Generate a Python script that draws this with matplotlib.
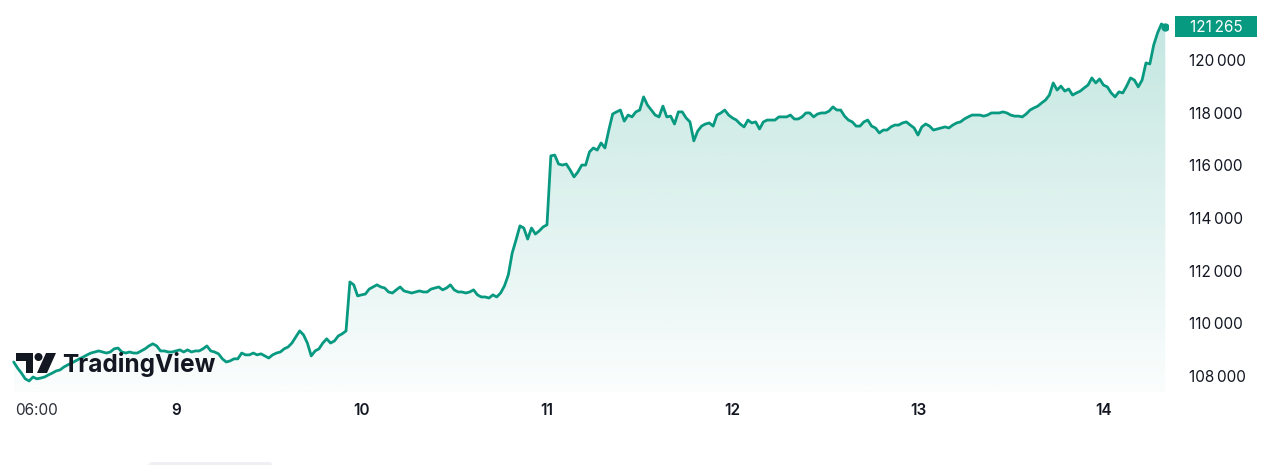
import numpy as np
import pandas as pd
import matplotlib
matplotlib.use('Agg')
import matplotlib.pyplot as plt
import matplotlib.dates as mdates
from matplotlib.patches import Polygon, Circle, Rectangle, FancyBboxPatch

plt.rcParams['font.family'] = ['Inter', 'DejaVu Sans']

# 30-minute closes, from 8th 03:00 to 14th 08:00
start = '2025-07-08 03:00'
prices = [
    108530, 108300, 108110, 107890, 107810, 107960, 107890, 107920, 107960, 108040,
    108110, 108190, 108230, 108340, 108420, 108490, 108570, 108650, 108720, 108800,
    108870, 108910, 108950, 108910, 108870, 108910, 109030, 109060, 108910, 108870,
    108910, 108870, 108870, 108950, 109030, 109140, 109220, 109140, 108950, 108950,
    108910, 108910, 108950, 108990, 108910, 108990, 108910, 108950, 108950, 109030,
    109140, 108950, 108910, 108840, 108650, 108530, 108570, 108650, 108650, 108870,
    108800, 108800, 108870, 108800, 108840, 108760, 108680, 108800, 108870, 108910,
    109030, 109100, 109250, 109480, 109710, 109560, 109250, 108760, 108950, 109030,
    109250, 109410, 109250, 109330, 109520, 109600, 109710, 111570, 111460, 111040,
    111080, 111110, 111300, 111380, 111460, 111380, 111340, 111190, 111150, 111270,
    111380, 111230, 111190, 111150, 111190, 111230, 111190, 111190, 111300, 111340,
    111380, 111270, 111340, 111460, 111270, 111190, 111190, 111150, 111190, 111270,
    111080, 111000, 111000, 110960, 111080, 111000, 111150, 111420, 111840, 112670,
    113170, 113700, 113620, 113200, 113620, 113390, 113510, 113660, 113740, 116360,
    116390, 116050, 116010, 116050, 115820, 115560, 115750, 116010, 116010, 116510,
    116660, 116580, 116850, 116660, 117340, 117950, 118030, 118100, 117680, 117910,
    117840, 118030, 118100, 118600, 118290, 118100, 117910, 117840, 118250, 117840,
    117870, 117570, 118030, 118030, 117800, 117650, 116930, 117300, 117490, 117570,
    117610, 117490, 117910, 117990, 118100, 117910, 117800, 117720, 117570, 117460,
    117720, 117610, 117650, 117380, 117650, 117720, 117720, 117720, 117840, 117840,
    117840, 117910, 117760, 117760, 117840, 117990, 117990, 117840, 117950, 117990,
    117990, 118060, 118220, 118100, 118100, 117870, 117720, 117650, 117490, 117490,
    117650, 117720, 117490, 117420, 117230, 117340, 117340, 117460, 117530, 117530,
    117610, 117650, 117530, 117420, 117150, 117460, 117570, 117490, 117340, 117380,
    117420, 117460, 117420, 117530, 117610, 117650, 117760, 117840, 117910, 117910,
    117910, 117870, 117910, 117990, 117990, 117990, 118030, 117990, 117910, 117870,
    117870, 117840, 117950, 118100, 118180, 118250, 118370, 118480, 118670, 119130,
    118860, 119010, 118820, 118900, 118670, 118750, 118820, 118940, 119050, 119320,
    119130, 119280, 119050, 118980, 118750, 118600, 118790, 118750, 119010, 119320,
    119240, 118980, 119240, 119890, 119850, 120570, 121030, 121370, 121265,
]
times = pd.date_range(start, periods=len(prices), freq='30min')

tick_times = ['2025-07-08 06:00', '2025-07-09 00:00', '2025-07-10 00:00', '2025-07-11 00:00',
              '2025-07-12 00:00', '2025-07-13 00:00', '2025-07-14 00:00']
tick_labels = ['06:00', '9', '10', '11', '12', '13', '14']
price_ticks = [108000, 110000, 112000, 114000, 116000, 118000, 120000]

GREEN = '#089981'
W, H = 1280, 465


def fmt(v):
    return f'{int(v):,}'.replace(',', '\u202f')


fig = plt.figure(figsize=(12.8, 4.65), dpi=100)
ax = fig.add_axes([0, 73 / H, 1168 / W, 392 / H])

x = mdates.date2num(times)
y = np.array(prices, dtype=float)
ymin, ymax = 107390, 122280
ax.set_xlim(x[0] - 1.77 / 24, x[-1] + 0.35 / 24)
ax.set_ylim(ymin, ymax)

# gradient area under the line
poly = ax.fill_between(x, y, ymin, color='none', lw=0)
grad = np.zeros((256, 1, 4))
grad[..., :3] = matplotlib.colors.to_rgb(GREEN)
grad[..., 3] = np.linspace(0.24, 0.02, 256)[:, None]
im = ax.imshow(grad, aspect='auto', extent=[x[0], x[-1], ymin, y.max()],
               origin='upper', zorder=1)
clip = poly.get_paths()[0]
im.set_clip_path(clip, transform=ax.transData)

ax.plot(x, y, color=GREEN, lw=2.0, solid_joinstyle='round', solid_capstyle='round', zorder=3)
ax.plot(x[-1], y[-1], 'o', color=GREEN, ms=5, zorder=4)

for s in ax.spines.values():
    s.set_visible(False)
ax.yaxis.tick_right()
ax.set_yticks(price_ticks)
ax.set_yticklabels([fmt(v) for v in price_ticks])
ax.tick_params(axis='y', length=0, pad=15, labelsize=11, labelcolor='#131722')
ax.set_xticks(mdates.date2num(pd.to_datetime(tick_times)))
ax.set_xticklabels(tick_labels)
ax.tick_params(axis='x', length=0, pad=8, labelsize=11, labelcolor='#131722')
for i, lab in enumerate(ax.get_xticklabels()):
    lab.set_fontweight('normal' if i == 0 else 'semibold')
    if i == 0:
        lab.set_color('#2a2e39')

# overlay in pixel coordinates for the price tag and watermark
ov = fig.add_axes([0, 0, 1, 1], zorder=5)
ov.set_xlim(0, W)
ov.set_ylim(H, 0)
ov.axis('off')
ov.patch.set_alpha(0)

last_px = H - ax.transData.transform((x[-1], y[-1]))[1]
ov.add_patch(Rectangle((1175, last_px - 10.5), 82, 21, color=GREEN, lw=0))
ov.text(1216, last_px + 0.5, fmt(y[-1]), color='white', fontsize=11,
        ha='center', va='center')

# TradingView watermark
ov.add_patch(Polygon([(16, 353), (33, 353), (33, 373), (26, 373), (26, 361), (16, 361)],
                     closed=True, color='#131722', lw=0))
ov.add_patch(Circle((38.5, 357), 4, color='#131722', lw=0))
ov.add_patch(Polygon([(37, 373), (46, 353), (56, 353), (47, 373)],
                     closed=True, color='#131722', lw=0))
ov.text(62, 372, 'TradingView', fontsize=17.6, fontweight='bold', color='#131722',
        ha='left', va='baseline')

ov.add_patch(FancyBboxPatch((148, 462), 125, 10, boxstyle='round,pad=0,rounding_size=5',
                            color='#eef0f3', lw=0))

fig.savefig('out.png', dpi=100, facecolor='white')
